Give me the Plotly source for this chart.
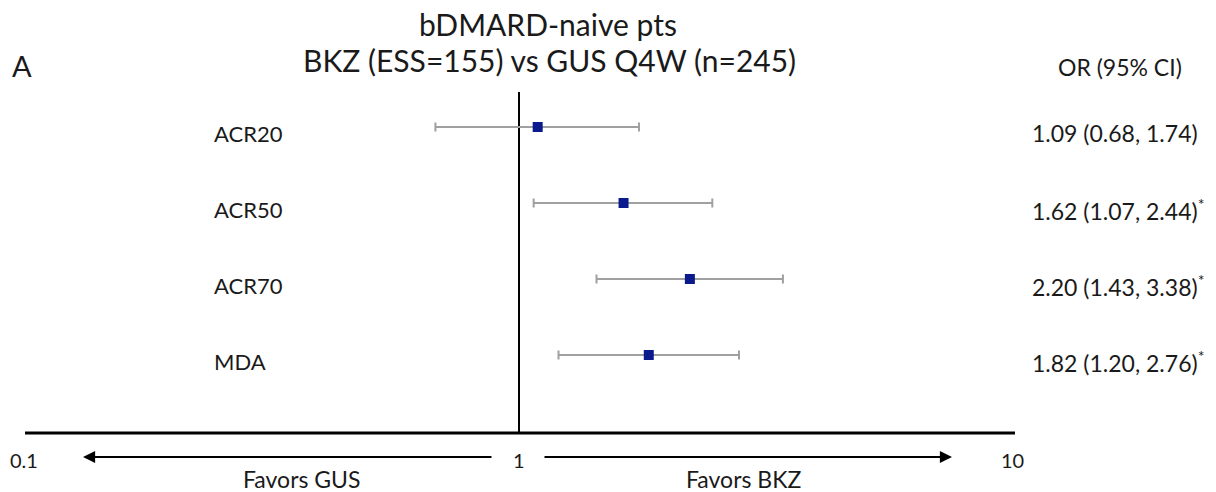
import math
import plotly.graph_objects as go

# ---- data ----
outcomes = ["ACR20", "ACR50", "ACR70", "MDA"]
odds_ratio = [1.09, 1.62, 2.20, 1.82]
ci_lower = [0.68, 1.07, 1.43, 1.20]
ci_upper = [1.74, 2.44, 3.38, 2.76]
significant = [False, True, True, True]
row_pos = [4, 3, 2, 1]
tick_vals = [0.1, 1, 10]
tick_text = ["0.1", "1", "10"]

FONT = "Lato"
TXT = "#1a1a1a"
OFF = 8                      # browser body margin
W, H = 1216 - OFF, 492 - OFF
PLOT_H = 425                 # plot area height (figure px); scale drawn below it

def sx(px):                  # screen x px -> paper x
    return (px - OFF) / W
def sy(py):                  # screen y px -> paper y
    return (PLOT_H - (py - OFF)) / PLOT_H

fig = go.Figure()

# reference line at OR = 1
fig.add_trace(go.Scatter(
    x=[1, 1], y=[-0.03, 4.46], mode="lines",
    line=dict(color="black", width=2), hoverinfo="skip", showlegend=False))

# point estimates with CIs
fig.add_trace(go.Scatter(
    x=odds_ratio, y=row_pos, mode="markers",
    marker=dict(symbol="square", size=10, color="#0a1a8c"),
    error_x=dict(type="data", symmetric=False,
                 array=[u - o for u, o in zip(ci_upper, odds_ratio)],
                 arrayminus=[o - l for o, l in zip(odds_ratio, ci_lower)],
                 color="#a0a0a0", thickness=2, width=4.5),
    hoverinfo="x+y", showlegend=False))

ann = []
for name, y, o, l, u, s in zip(outcomes, row_pos, odds_ratio, ci_lower, ci_upper, significant):
    ann.append(dict(x=sx(212), xref="paper", y=y, yref="y", yshift=-6, text=name,
                    showarrow=False, xanchor="left", yanchor="middle",
                    font=dict(family=FONT, size=22, color=TXT)))
    label = f"{o:.2f} ({l:.2f}, {u:.2f})" + ("<sup>*</sup>" if s else "")
    ann.append(dict(x=sx(1030), xref="paper", y=y, yref="y", yshift=-6, text=label,
                    showarrow=False, xanchor="left", yanchor="middle",
                    font=dict(family=FONT, size=23, color=TXT)))

# scale tick labels (placed on the log x axis)
for v, t in zip(tick_vals, tick_text):
    ann.append(dict(x=math.log10(v), xref="x", y=sy(460), yref="paper", text=t,
                    xshift=4 if v < 1 else (-6 if v > 1 else 0),
                    showarrow=False, xanchor="center", yanchor="middle",
                    font=dict(family=FONT, size=20, color=TXT)))

# titles / headers
ann.append(dict(x=sx(548), xref="paper", y=sy(24), yref="paper",
                text="bDMARD-naive pts", showarrow=False, xanchor="center", yanchor="middle",
                font=dict(family=FONT, size=30, color=TXT)))
ann.append(dict(x=sx(549), xref="paper", y=sy(60), yref="paper",
                text="BKZ (ESS=155) vs GUS Q4W (n=245)", showarrow=False, xanchor="center",
                yanchor="middle", font=dict(family=FONT, size=30, color=TXT)))
ann.append(dict(x=sx(22), xref="paper", y=sy(65), yref="paper",
                text="A", showarrow=False, xanchor="center", yanchor="middle",
                font=dict(family=FONT, size=29, color=TXT)))
ann.append(dict(x=sx(1120), xref="paper", y=sy(67), yref="paper",
                text="OR (95% CI)", showarrow=False, xanchor="center", yanchor="middle",
                font=dict(family=FONT, size=23, color=TXT)))

# favour arrows and labels
ann.append(dict(x=sx(83), y=sy(457), xref="paper", yref="paper",
                ax=493 - 83, ay=0, axref="pixel", ayref="pixel",
                text="", showarrow=True, arrowhead=2, arrowsize=1.1, arrowwidth=2.2,
                arrowcolor="black"))
ann.append(dict(x=sx(952), y=sy(457), xref="paper", yref="paper",
                ax=543 - 952, ay=0, axref="pixel", ayref="pixel",
                text="", showarrow=True, arrowhead=2, arrowsize=1.1, arrowwidth=2.2,
                arrowcolor="black"))
ann.append(dict(x=sx(302), xref="paper", y=sy(479), yref="paper",
                text="Favors GUS", showarrow=False, xanchor="center", yanchor="middle",
                font=dict(family=FONT, size=23, color=TXT)))
ann.append(dict(x=sx(743), xref="paper", y=sy(479), yref="paper",
                text="Favors BKZ", showarrow=False, xanchor="center", yanchor="middle",
                font=dict(family=FONT, size=23, color=TXT)))

# horizontal scale line
shapes = [dict(type="line", xref="paper", yref="paper",
               x0=sx(25), x1=sx(1015), y0=0, y1=0,
               line=dict(color="black", width=3))]

PX_PER_DEC = 499.0
ONE_PX = 519 - OFF           # figure px of OR = 1
x_left = -ONE_PX / PX_PER_DEC
x_right = (W - ONE_PX) / PX_PER_DEC

ROW_PX = 76.0                # px per row unit
ROW1_PX = 355 - OFF          # figure px of row 1
y_bottom = 1 - (PLOT_H - ROW1_PX) / ROW_PX
y_top = 1 + ROW1_PX / ROW_PX

fig.update_layout(
    width=W, height=H,
    margin=dict(l=0, r=0, t=0, b=H - PLOT_H, pad=0),
    paper_bgcolor="white", plot_bgcolor="white",
    xaxis=dict(type="log", range=[x_left, x_right], tickvals=tick_vals,
               showticklabels=False, showgrid=False, zeroline=False, showline=False,
               ticks="", fixedrange=True),
    yaxis=dict(range=[y_bottom, y_top], visible=False, fixedrange=True),
    annotations=ann, shapes=shapes,
)

fig.write_html("out.html")
